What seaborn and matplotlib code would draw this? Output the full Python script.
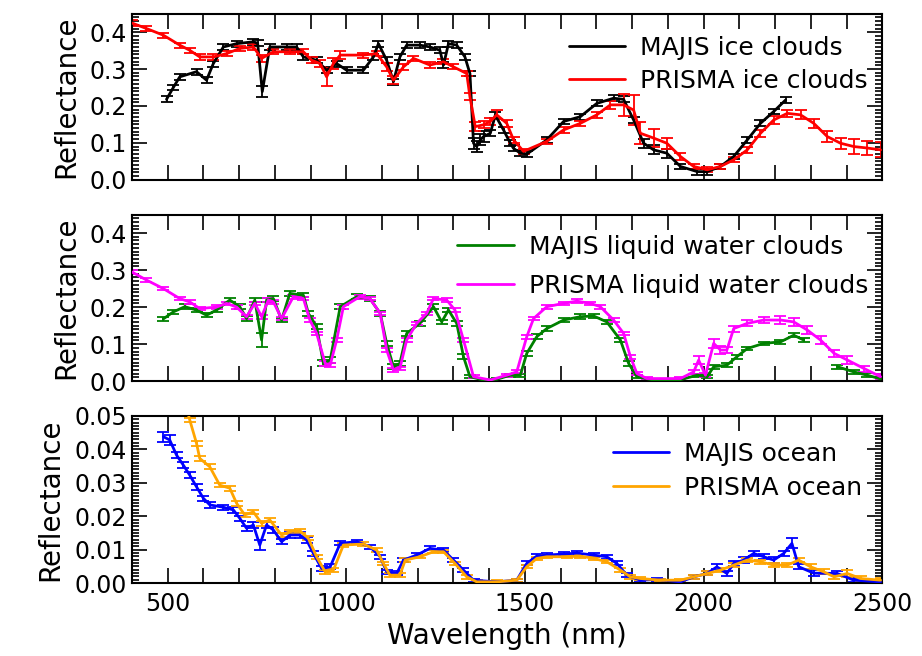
import numpy as np
import pandas as pd
import matplotlib
matplotlib.use("Agg")
import matplotlib.pyplot as plt
import seaborn as sns
from matplotlib.ticker import MultipleLocator, FuncFormatter
from matplotlib.lines import Line2D

sns.set_theme(style="ticks")
plt.rcParams['font.family'] = ['DejaVu Sans']
plt.rcParams.update({"text.color": "black", "axes.labelcolor": "black",
                     "xtick.color": "black", "ytick.color": "black"})

# ---------------- data ----------------
# Panel 1: ice clouds
majis_ice_wl = [497, 516, 534, 581, 609, 628, 656, 693, 740, 752, 765, 786, 833, 861, 880, 917, 945, 973,
                1001, 1048, 1076, 1090, 1113, 1132, 1150, 1169, 1206, 1234, 1262, 1272, 1286, 1309, 1332,
                1346, 1356, 1365, 1375, 1384, 1403, 1417, 1440, 1459, 1468, 1487, 1506, 1561, 1608, 1655,
                1701, 1748, 1776, 1804, 1832, 1860, 1897, 1935, 1982, 2010, 2047, 2084, 2122, 2159, 2196, 2229]
majis_ice_r = [0.218, 0.25, 0.279, 0.293, 0.27, 0.315, 0.36, 0.369, 0.374, 0.37, 0.239, 0.36, 0.36, 0.36,
               0.333, 0.324, 0.297, 0.315, 0.297, 0.297, 0.333, 0.369, 0.324, 0.266, 0.333, 0.365, 0.365,
               0.36, 0.351, 0.311, 0.369, 0.365, 0.333, 0.288, 0.099, 0.09, 0.108, 0.117, 0.126, 0.175,
               0.135, 0.099, 0.085, 0.072, 0.07, 0.108, 0.158, 0.171, 0.207, 0.221, 0.218, 0.162, 0.099,
               0.081, 0.072, 0.036, 0.022, 0.022, 0.036, 0.063, 0.108, 0.153, 0.185, 0.216]
majis_ice_err = [0.008, 0.008, 0.008, 0.008, 0.008, 0.008, 0.008, 0.008, 0.008, 0.008, 0.015, 0.008, 0.008,
                 0.008, 0.008, 0.008, 0.008, 0.008, 0.008, 0.008, 0.008, 0.008, 0.008, 0.008, 0.008, 0.008,
                 0.008, 0.008, 0.008, 0.008, 0.008, 0.008, 0.008, 0.008, 0.015, 0.015, 0.015, 0.015, 0.008,
                 0.008, 0.008, 0.008, 0.008, 0.008, 0.008, 0.008, 0.008, 0.008, 0.008, 0.008, 0.008, 0.008,
                 0.012, 0.012, 0.012, 0.008, 0.008, 0.008, 0.008, 0.008, 0.008, 0.008, 0.008, 0.008]

prisma_ice_wl = [400, 441, 488, 534, 562, 590, 628, 665, 702, 740, 763, 796, 842, 880, 903, 927, 945, 964,
                 983, 1048, 1085, 1113, 1132, 1160, 1188, 1234, 1272, 1300, 1337, 1346, 1361, 1384, 1403,
                 1421, 1449, 1468, 1496, 1561, 1608, 1655, 1701, 1739, 1776, 1804, 1823, 1860, 1897, 1935,
                 1972, 2010, 2047, 2084, 2122, 2159, 2196, 2234, 2271, 2308, 2346, 2383, 2420, 2458, 2495]
prisma_ice_r = [0.425, 0.41, 0.392, 0.365, 0.351, 0.333, 0.333, 0.342, 0.356, 0.36, 0.329, 0.347, 0.347,
                0.347, 0.324, 0.315, 0.279, 0.315, 0.338, 0.338, 0.342, 0.306, 0.27, 0.306, 0.329, 0.311,
                0.32, 0.306, 0.288, 0.225, 0.144, 0.149, 0.158, 0.176, 0.153, 0.108, 0.077, 0.104, 0.135,
                0.153, 0.176, 0.203, 0.203, 0.189, 0.126, 0.113, 0.099, 0.063, 0.036, 0.027, 0.036, 0.054,
                0.081, 0.126, 0.162, 0.18, 0.176, 0.153, 0.117, 0.099, 0.09, 0.086, 0.081]
prisma_ice_err = [0.007, 0.007, 0.007, 0.007, 0.007, 0.007, 0.007, 0.007, 0.007, 0.007, 0.01, 0.007, 0.007,
                  0.007, 0.008, 0.01, 0.025, 0.015, 0.01, 0.007, 0.007, 0.01, 0.01, 0.008, 0.007, 0.007,
                  0.007, 0.007, 0.007, 0.01, 0.012, 0.01, 0.01, 0.012, 0.01, 0.008, 0.007, 0.007, 0.007,
                  0.007, 0.008, 0.01, 0.03, 0.04, 0.03, 0.025, 0.015, 0.01, 0.008, 0.007, 0.007, 0.007,
                  0.008, 0.01, 0.01, 0.01, 0.012, 0.012, 0.015, 0.015, 0.02, 0.02, 0.02]

# Panel 2: liquid water clouds (NaN = gap in MAJIS coverage)
majis_liq_wl = [488, 516, 548, 581, 609, 637, 674, 702, 721, 744, 763, 777, 796, 819, 842, 880, 894, 917,
                936, 955, 983, 1029, 1066, 1095, 1113, 1132, 1150, 1169, 1206, 1244, 1267, 1286, 1309, 1328,
                1346, 1384, 1421, 1459, 1487, 1505, 1533, 1561, 1608, 1655, 1692, 1729, 1767, 1790, 1813,
                1860, 1935, 1982, 2010, 2028, 2065, 2093, 2122, 2168, 2215, 2252, 2280, 2330, 2374, 2420,
                2458, 2495]
majis_liq_r = [0.168, 0.187, 0.201, 0.192, 0.178, 0.192, 0.219, 0.201, 0.169, 0.219, 0.111, 0.219, 0.223,
               0.165, 0.237, 0.232, 0.183, 0.147, 0.048, 0.057, 0.201, 0.228, 0.223, 0.183, 0.102, 0.039,
               0.048, 0.129, 0.156, 0.201, 0.16, 0.192, 0.156, 0.066, 0.012, 0.003, 0.005, 0.016, 0.016,
               0.075, 0.12, 0.142, 0.165, 0.174, 0.176, 0.16, 0.111, 0.048, 0.012, 0.003, 0.004, 0.016,
               0.012, 0.039, 0.043, 0.066, 0.088, 0.102, 0.106, 0.124, 0.111, np.nan, 0.039, 0.025, 0.016,
               0.006]
majis_liq_err = [0.006, 0.006, 0.006, 0.006, 0.006, 0.006, 0.006, 0.006, 0.006, 0.006, 0.02,
                 0.006, 0.006, 0.006, 0.006, 0.006, 0.006, 0.006, 0.008, 0.008, 0.006, 0.006, 0.006,
                 0.006, 0.006, 0.006, 0.006, 0.006, 0.006, 0.006, 0.006, 0.006, 0.006, 0.006, 0.004,
                 0.004, 0.004, 0.004, 0.004, 0.006, 0.006, 0.006, 0.006, 0.006, 0.006, 0.006, 0.006,
                 0.006, 0.004, 0.004, 0.004, 0.004, 0.004, 0.005, 0.005, 0.005, 0.005, 0.005, 0.005,
                 0.005, 0.005, 0.0, 0.005, 0.005, 0.005, 0.005]

prisma_liq_wl = [400, 441, 488, 534, 562, 590, 637, 665, 693, 721, 744, 763, 782, 796, 819, 852, 880, 898,
                 917, 941, 955, 973, 992, 1038, 1066, 1095, 1113, 1132, 1150, 1169, 1197, 1225, 1244, 1281,
                 1304, 1328, 1356, 1403, 1449, 1477, 1505, 1524, 1561, 1608, 1645, 1683, 1711, 1748, 1776,
                 1795, 1813, 1841, 1935, 1972, 1986, 2005, 2028, 2047, 2065, 2084, 2122, 2168, 2215, 2252,
                 2290, 2327, 2365, 2402, 2449, 2495]
prisma_liq_r = [0.295, 0.273, 0.25, 0.223, 0.214, 0.196, 0.2, 0.21, 0.2, 0.174, 0.21, 0.174, 0.219, 0.214,
                0.169, 0.228, 0.223, 0.165, 0.129, 0.048, 0.043, 0.111, 0.201, 0.228, 0.223, 0.183, 0.084,
                0.03, 0.034, 0.111, 0.156, 0.183, 0.223, 0.219, 0.192, 0.111, 0.012, 0.003, 0.016, 0.025,
                0.12, 0.169, 0.201, 0.21, 0.216, 0.21, 0.201, 0.165, 0.129, 0.066, 0.021, 0.007, 0.007,
                0.025, 0.057, 0.016, 0.102, 0.084, 0.084, 0.142, 0.156, 0.165, 0.165, 0.16, 0.138, 0.111,
                0.075, 0.057, 0.034, 0.012]
prisma_liq_err = [0.005, 0.005, 0.005, 0.005, 0.005, 0.005, 0.005, 0.005, 0.005, 0.005, 0.005, 0.005,
                  0.005, 0.005, 0.005, 0.005, 0.005, 0.005, 0.005, 0.006, 0.006, 0.005, 0.005, 0.005,
                  0.005, 0.005, 0.005, 0.005, 0.005, 0.005, 0.005, 0.005, 0.005, 0.005, 0.005, 0.005,
                  0.004, 0.004, 0.004, 0.004, 0.005, 0.005, 0.005, 0.005, 0.005, 0.005, 0.005, 0.005,
                  0.005, 0.005, 0.004, 0.004, 0.004, 0.006, 0.01, 0.006, 0.012, 0.01, 0.008, 0.008,
                  0.008, 0.008, 0.01, 0.01, 0.01, 0.01, 0.01, 0.01, 0.008, 0.006]

# Panel 3: ocean
majis_ocean_wl = [488, 506, 525, 544, 562, 581, 600, 618, 656, 684, 702, 721, 740, 758, 777, 796, 819, 842,
                  870, 889, 908, 931, 955, 983, 1029, 1066, 1095, 1113, 1141, 1160, 1197, 1234, 1272, 1300,
                  1328, 1356, 1421, 1477, 1505, 1533, 1561, 1608, 1645, 1692, 1729, 1757, 1785, 1823, 1870,
                  1935, 1972, 2010, 2037, 2065, 2084, 2112, 2140, 2168, 2196, 2224, 2247, 2266, 2308, 2374,
                  2420, 2495]
majis_ocean_r = [0.0438, 0.0428, 0.0383, 0.0353, 0.0323, 0.0288, 0.0254, 0.0234, 0.0227, 0.0219, 0.0194,
                 0.0164, 0.0174, 0.0114, 0.0174, 0.0159, 0.0124, 0.0144, 0.0144, 0.0129, 0.0089, 0.0044,
                 0.0049, 0.0119, 0.0124, 0.0109, 0.0079, 0.0034, 0.0029, 0.0069, 0.0084, 0.0104, 0.0099,
                 0.0069, 0.0039, 0.0009, 0.0004, 0.0009, 0.0059, 0.0081, 0.0084, 0.0087, 0.009, 0.0084,
                 0.0079, 0.0059, 0.0024, 0.0009, 0.0011, 0.0004, 0.0019, 0.0029, 0.0049, 0.0029, 0.0059,
                 0.0069, 0.0089, 0.0079, 0.0069, 0.0089, 0.0119, 0.0049, 0.003, 0.0029, 0.0009, 0.0004]
majis_ocean_err = [0.0015, 0.0015, 0.0008, 0.0008, 0.0008, 0.0008, 0.0008, 0.0008, 0.0008, 0.0008, 0.0008,
                   0.0008, 0.0008, 0.0015, 0.0008, 0.0008, 0.0008, 0.0008, 0.0008, 0.0008, 0.0008, 0.0008,
                   0.0008, 0.0006, 0.0006, 0.0006, 0.0006, 0.0006, 0.0006, 0.0006, 0.0006, 0.0006, 0.0006,
                   0.0006, 0.0006, 0.0004, 0.0004, 0.0004, 0.0006, 0.0006, 0.0006, 0.0006, 0.0006, 0.0006,
                   0.0006, 0.0006, 0.0006, 0.0004, 0.0004, 0.0004, 0.0006, 0.0006, 0.0008, 0.0008, 0.0008,
                   0.0008, 0.0008, 0.0008, 0.0008, 0.0008, 0.0015, 0.0008, 0.0008, 0.0008, 0.0006, 0.0006]

prisma_ocean_wl = [545, 562, 581, 590, 618, 646, 674, 693, 716, 740, 763, 786, 819, 842, 870, 894, 917, 941,
                   964, 992, 1048, 1085, 1104, 1122, 1150, 1165, 1206, 1244, 1272, 1304, 1337, 1365, 1421,
                   1477, 1505, 1533, 1561, 1617, 1655, 1692, 1729, 1767, 1795, 1823, 1879, 1935, 1972, 2010,
                   2047, 2084, 2122, 2159, 2196, 2234, 2266, 2299, 2336, 2365, 2402, 2439, 2495]
prisma_ocean_r = [0.056, 0.0488, 0.0418, 0.0373, 0.0348, 0.0293, 0.0284, 0.0239, 0.0204, 0.0213, 0.0179,
                  0.0189, 0.0144, 0.0154, 0.0157, 0.0134, 0.0079, 0.0034, 0.0039, 0.0114, 0.0117, 0.0099,
                  0.0059, 0.0024, 0.0024, 0.0069, 0.0079, 0.0094, 0.0094, 0.0059, 0.0019, 0.0004, 0.0004,
                  0.0009, 0.0049, 0.0074, 0.0079, 0.0079, 0.0081, 0.0074, 0.0064, 0.0039, 0.0019, 0.0014,
                  0.0009, 0.0009, 0.0019, 0.0029, 0.0039, 0.0054, 0.0069, 0.0064, 0.0054, 0.0054, 0.0069,
                  0.0049, 0.0034, 0.0019, 0.0029, 0.0014, 0.0009]
prisma_ocean_err = [0.0007, 0.0007, 0.0007, 0.0007, 0.0007, 0.0007, 0.0007, 0.0007, 0.0007, 0.0007, 0.0007,
                    0.0007, 0.0006, 0.0006, 0.0006, 0.0006, 0.0006, 0.0006, 0.0006, 0.0005, 0.0005, 0.0005,
                    0.0005, 0.0005, 0.0005, 0.0005, 0.0005, 0.0005, 0.0005, 0.0005, 0.0005, 0.0005, 0.0005,
                    0.0005, 0.0005, 0.0005, 0.0005, 0.0005, 0.0005, 0.0005, 0.0005, 0.0005, 0.0005, 0.0005,
                    0.0005, 0.0005, 0.0005, 0.0006, 0.0006, 0.0006, 0.0006, 0.0006, 0.0006, 0.0006, 0.0006,
                    0.0007, 0.0007, 0.0007, 0.001, 0.0008, 0.0006]

panels = [
    dict(series=[("MAJIS ice clouds", majis_ice_wl, majis_ice_r, majis_ice_err, "black"),
                 ("PRISMA ice clouds", prisma_ice_wl, prisma_ice_r, prisma_ice_err, "#ff0000")],
         ylim=(0, 0.45), major=0.1, minor=0.01, fmt="{:.1f}", rect=[0.143, 0.726, 0.814, 0.253],
         leg_anchor=(0.981, 0.866), leg_space=0.36),
    dict(series=[("MAJIS liquid water clouds", majis_liq_wl, majis_liq_r, majis_liq_err, "#008000"),
                 ("PRISMA liquid water clouds", prisma_liq_wl, prisma_liq_r, prisma_liq_err, "#ff00ff")],
         ylim=(0, 0.45), major=0.1, minor=0.01, fmt="{:.1f}", rect=[0.143, 0.419, 0.814, 0.254],
         leg_anchor=(0.981, 0.876), leg_space=0.6),
    dict(series=[("MAJIS ocean", majis_ocean_wl, majis_ocean_r, majis_ocean_err, "#0000ff"),
                 ("PRISMA ocean", prisma_ocean_wl, prisma_ocean_r, prisma_ocean_err, "#ffa500")],
         ylim=(0, 0.05), major=0.01, minor=0.001, fmt="{:.2f}", rect=[0.143, 0.111, 0.814, 0.255],
         leg_anchor=(0.973, 0.846), leg_space=0.4),
]

fig = plt.figure(figsize=(9.22, 6.56), dpi=100)

for i, p in enumerate(panels):
    ax = fig.add_axes(p["rect"])
    handles = []
    for label, wl, r, err, col in p["series"]:
        wl = np.asarray(wl, float)
        r = np.asarray(r, float)
        err = np.asarray(err, float)
        seg = np.cumsum(np.isnan(r))
        df = pd.DataFrame({"wl": wl, "r": r, "seg": seg}).dropna()
        ok = ~np.isnan(r)
        ax.errorbar(wl[ok], r[ok], yerr=err[ok], fmt="none", ecolor=col, elinewidth=1.3,
                    capsize=4, capthick=1.3, zorder=2)
        for s_id, sub in df.groupby("seg"):
            sns.lineplot(data=sub, x="wl", y="r", estimator=None, sort=False,
                         color=col, lw=2, ax=ax, zorder=3, legend=False)
        handles.append(Line2D([], [], color=col, lw=2, label=label))
    ax.set_xlim(400, 2500)
    ax.set_ylim(*p["ylim"])
    ax.xaxis.set_major_locator(MultipleLocator(500))
    ax.xaxis.set_minor_locator(MultipleLocator(100))
    ax.yaxis.set_major_locator(MultipleLocator(p["major"]))
    ax.yaxis.set_minor_locator(MultipleLocator(p["minor"]))
    ax.yaxis.set_major_formatter(FuncFormatter(lambda v, pos, f=p["fmt"]: f.format(v)))
    ax.tick_params(which="both", direction="in", top=True, right=True, width=1.2, colors="black")
    ax.tick_params(axis="x", which="both", length=11)
    ax.tick_params(axis="y", which="major", length=11)
    ax.tick_params(axis="y", which="minor", length=5)
    ax.tick_params(axis="both", which="major", labelsize=17)
    ax.tick_params(axis="x", which="major", pad=6)
    for s in ax.spines.values():
        s.set_linewidth(1.5)
        s.set_color("black")
    ax.set_ylabel("Reflectance", fontsize=20, labelpad=7)
    if i < 2:
        ax.set_xlabel("")
        ax.tick_params(axis="x", labelbottom=False)
    else:
        ax.set_xlabel("Wavelength (nm)", fontsize=20, labelpad=5)
    ax.legend(handles=handles, loc="upper right", bbox_to_anchor=p["leg_anchor"],
              frameon=False, fontsize=18, handlelength=2.25, handletextpad=0.6,
              borderaxespad=0, borderpad=0, labelspacing=p["leg_space"])

fig.savefig("out.png", dpi=100)
